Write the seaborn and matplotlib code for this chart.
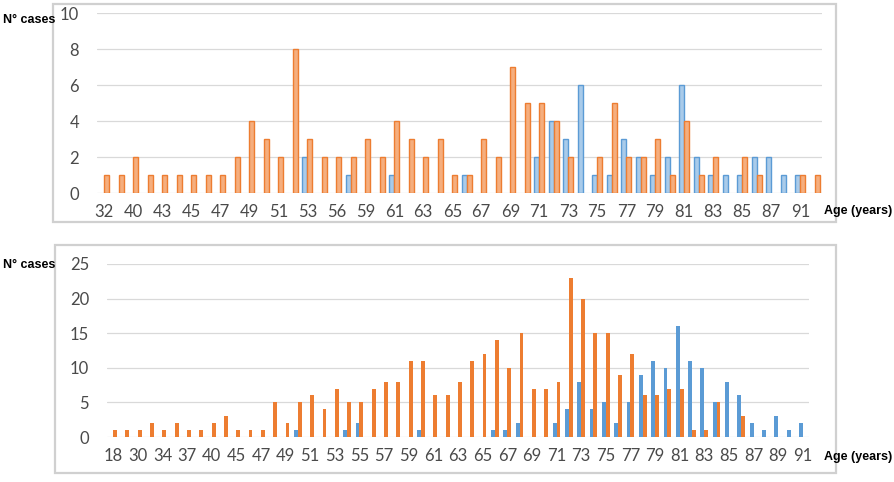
import numpy as np
import pandas as pd
import matplotlib
matplotlib.use("Agg")
import matplotlib.pyplot as plt
import seaborn as sns
from matplotlib.patches import Rectangle

# top chart: ages (every other one is shown on the axis)
top_ages = [32, 38, 40, 42, 43, 44, 45, 46, 47, 48, 49, 50, 51, 52, 53, 55, 56, 58,
            59, 60, 61, 62, 63, 64, 65, 66, 67, 68, 69, 70, 71, 72, 73, 74, 75, 76,
            77, 78, 79, 80, 81, 82, 83, 84, 85, 86, 87, 89, 91, 92]
top_blue = [0, 0, 0, 0, 0, 0, 0, 0, 0, 0, 0, 0, 0, 0, 2, 0, 0, 1,
            0, 0, 1, 0, 0, 0, 0, 1, 0, 0, 0, 0, 2, 4, 3, 6, 1, 1,
            3, 2, 1, 2, 6, 2, 1, 1, 1, 2, 2, 1, 1, 0]
top_orange = [1, 1, 2, 1, 1, 1, 1, 1, 1, 2, 4, 3, 2, 8, 3, 2, 2, 2,
              3, 2, 4, 3, 2, 3, 1, 1, 3, 2, 7, 5, 5, 4, 2, 0, 2, 5,
              2, 2, 3, 1, 4, 1, 2, 0, 2, 1, 0, 0, 1, 1]

# bottom chart
bottom_ages = [18, 25, 30, 32, 34, 36, 37, 39, 40, 42, 45, 46, 47, 48, 49, 50, 51, 52,
               53, 54, 55, 56, 57, 58, 59, 60, 61, 62, 63, 64, 65, 66, 67, 68, 69, 70,
               71, 72, 73, 74, 75, 76, 77, 78, 79, 80, 81, 82, 83, 84, 85, 86, 87, 88,
               89, 90, 91]
bottom_blue = [0, 0, 0, 0, 0, 0, 0, 0, 0, 0, 0, 0, 0, 0, 0, 1, 0, 0,
               0, 1, 2, 0, 0, 0, 0, 1, 0, 0, 0, 0, 0, 1, 1, 2, 0, 0,
               2, 4, 8, 4, 5, 2, 5, 9, 11, 10, 16, 11, 10, 5, 8, 6, 2, 1,
               3, 1, 2]
bottom_orange = [1, 1, 1, 2, 1, 2, 1, 1, 2, 3, 1, 1, 1, 5, 2, 5, 6, 4,
                 7, 5, 5, 7, 8, 8, 11, 11, 6, 6, 8, 11, 12, 14, 10, 15, 7, 7,
                 8, 23, 20, 15, 15, 9, 12, 6, 6, 7, 7, 1, 1, 5, 0, 3, 0, 0,
                 0, 0, 0]

BLUE = "#5B9BD5"
ORANGE = "#ED7D31"
TXT = "#4A4A4A"
GRID = "#D9D9D9"


def make_frame(ages, blue, orange):
    rows = []
    for a, b, o in zip(ages, blue, orange):
        if b:
            rows.append((str(a), "group 1", b))
        if o:
            rows.append((str(a), "group 2", o))
    return pd.DataFrame(rows, columns=["age", "series", "cases"])


def draw_panel(ax, ages, blue, orange, ymax, ystep, width, fills, edges, lw):
    df = make_frame(ages, blue, orange)
    order = [str(a) for a in ages]
    sns.barplot(data=df, x="age", y="cases", hue="series", order=order,
                hue_order=["group 1", "group 2"], palette=fills, width=width,
                errorbar=None, legend=False, ax=ax, linewidth=lw, saturation=1)
    for cont, ec in zip(ax.containers, edges):
        for p in cont:
            p.set_edgecolor(ec)
    ax.set_xlim(-0.5, len(ages) - 0.5)
    ax.set_ylim(0, ymax)
    ax.set_yticks(np.arange(0, ymax + 1, ystep))
    ax.set_xticks(range(0, len(ages), 2))
    ax.set_xticklabels(order[::2])
    ax.set_xlabel("")
    ax.set_ylabel("")
    ax.grid(axis="y", color=GRID, lw=0.9)
    ax.grid(axis="x", visible=False)
    ax.set_axisbelow(True)
    for s in ax.spines.values():
        s.set_visible(False)
    ax.tick_params(axis="both", length=0, labelsize=12, colors=TXT)
    ax.tick_params(axis="y", pad=13)
    ax.tick_params(axis="x", pad=8)


def main():
    sns.set_style("white")
    plt.rcParams["font.family"] = ["Lato", "DejaVu Sans"]

    fig = plt.figure(figsize=(8.94, 4.82), dpi=100)
    W, H = 894, 482

    # chart borders like the spreadsheet frames
    for x0, y0, x1, y1 in [(53, 4, 836, 222), (55, 245, 836, 473)]:
        fig.patches.append(Rectangle((x0 / W, 1 - y1 / H), (x1 - x0) / W, (y1 - y0) / H,
                                     transform=fig.transFigure, fill=False,
                                     edgecolor="#D0D0D0", lw=1.6))

    ax1 = fig.add_axes([97 / W, 1 - 193 / H, (822 - 97) / W, (193 - 13) / H])
    draw_panel(ax1, top_ages, top_blue, top_orange, 10, 2, 0.7,
               ["#A9CBEA", "#F5AE7E"], [BLUE, ORANGE], 1.0)

    ax2 = fig.add_axes([107 / W, 1 - 437 / H, (809 - 107) / W, (437 - 264) / H])
    draw_panel(ax2, bottom_ages, bottom_blue, bottom_orange, 25, 5, 0.62,
               [BLUE, ORANGE], [BLUE, ORANGE], 0)

    lab = dict(fontsize=9, fontweight="bold", color="black",
               family=["Liberation Sans", "DejaVu Sans"])
    fig.text(3 / W, 1 - 20 / H, "N° cases", ha="left", va="center", **lab)
    fig.text(3 / W, 1 - 265 / H, "N° cases", ha="left", va="center", **lab)
    fig.text(824 / W, 1 - 211 / H, "Age (years)", ha="left", va="center", **lab)
    fig.text(824 / W, 1 - 457 / H, "Age (years)", ha="left", va="center", **lab)

    fig.savefig("out.png", dpi=100)


if __name__ == "__main__":
    main()
